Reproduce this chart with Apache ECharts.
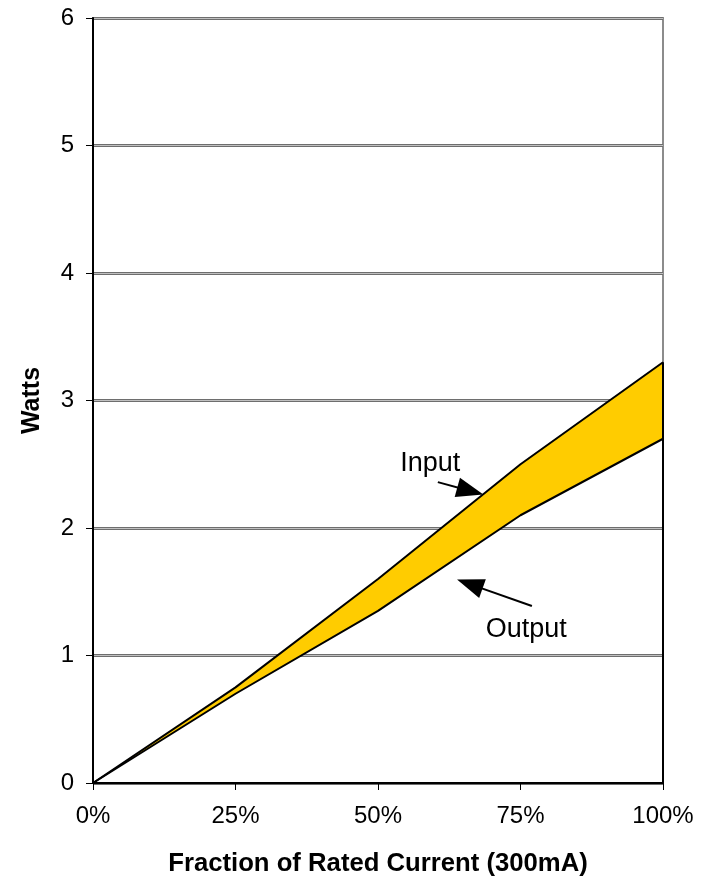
<!DOCTYPE html>
<html>
<head>
<meta charset="utf-8">
<script src="https://cdn.jsdelivr.net/npm/echarts@6/dist/echarts.min.js"></script>
<style>
  html, body { margin: 0; padding: 0; background: #fff; }
  #chart { width: 705px; height: 882px; }
</style>
</head>
<body>
<div id="chart"></div>
<script>
// Fraction of rated current (%) and measured power (W)
const fractions = [0, 25, 50, 75, 100];
const inputWatts = [0, 0.75, 1.6, 2.5, 3.3];
const outputWatts = [0, 0.7, 1.35, 2.1, 2.7];
const xTickLabels = ['0%', '25%', '50%', '75%', '100%'];
const yTickLabels = ['0', '1', '2', '3', '4', '5', '6'];

// Callout texts and arrows, in data coordinates [fraction %, watts]
const calloutTexts = [
  { text: 'Input', at: [53.9, 2.52] },
  { text: 'Output', at: [68.9, 1.216] }
];
const calloutArrows = [
  { from: [60.5, 2.36], to: [66.2, 2.29] },
  { from: [77.0, 1.388], to: [66.1, 1.56] }
];

const FONT = 'Liberation Sans, Arial, sans-serif';
const chart = echarts.init(document.getElementById('chart'), null, { renderer: 'canvas' });

// yellow band between output and input, stacked on the output curve
const bandWatts = inputWatts.map((v, i) => +(v - outputWatts[i]).toFixed(4));
const lastFraction = fractions[fractions.length - 1];
const lastInput = inputWatts[inputWatts.length - 1];

const option = {
  animation: false,
  backgroundColor: '#fff',
  grid: {
    left: 93, top: 18, width: 570, height: 765,
    show: true, borderColor: '#8c8c8c', borderWidth: 2, backgroundColor: 'transparent'
  },
  xAxis: [
    {
      type: 'category', data: xTickLabels, boundaryGap: false,
      name: 'Fraction of Rated Current (300mA)',
      nameLocation: 'middle', nameGap: 68,
      nameTextStyle: { fontFamily: FONT, fontWeight: 'bold', fontSize: 25.7, color: '#000' },
      axisLine: { show: true, lineStyle: { color: '#000', width: 2 } },
      axisTick: { show: true, length: 7, alignWithLabel: true, lineStyle: { color: '#000', width: 1 } },
      axisLabel: { fontFamily: FONT, fontSize: 24, color: '#000', margin: 21 },
      splitLine: { show: false }
    },
    {
      // continuous scale used to place the callouts
      type: 'value', min: 0, max: 100, show: false
    }
  ],
  yAxis: [
    {
      type: 'value', min: 0, max: 6, interval: 1,
      name: 'Watts', nameLocation: 'middle', nameGap: 48, nameRotate: 90,
      nameTextStyle: { fontFamily: FONT, fontWeight: 'bold', fontSize: 25, color: '#000' },
      axisLine: { show: true, lineStyle: { color: '#000', width: 2 } },
      axisTick: { show: true, length: 7, lineStyle: { color: '#000', width: 1 } },
      axisLabel: {
        fontFamily: FONT, fontSize: 24, color: '#000', margin: 19,
        formatter: v => yTickLabels[v]
      },
      splitLine: { show: true, lineStyle: { color: '#6e6e6e', width: 3 } }
    },
    {
      // inner highlight of the double gridlines
      type: 'value', min: 0, max: 6, interval: 1, position: 'left',
      axisLine: { show: false }, axisTick: { show: false }, axisLabel: { show: false },
      splitLine: { show: true, lineStyle: { color: '#c0c0c0', width: 1 } }
    }
  ],
  series: [
    {
      name: 'Output', type: 'line', stack: 'power', data: outputWatts,
      symbol: 'none', z: 3,
      lineStyle: { color: '#000', width: 2 },
      areaStyle: { opacity: 0 }
    },
    {
      name: 'Input', type: 'line', stack: 'power', data: bandWatts,
      symbol: 'none', z: 2,
      lineStyle: { color: '#000', width: 2 },
      areaStyle: { color: '#ffcc00', opacity: 1 }
    },
    {
      name: 'callouts', type: 'line', xAxisIndex: 1, yAxisIndex: 0,
      data: [[0, 0]], symbol: 'none', lineStyle: { width: 0 }, z: 4,
      markLine: {
        silent: true, symbol: ['none', 'triangle'], symbolSize: [20, 27],
        lineStyle: { color: '#000', width: 2, type: 'solid' },
        label: { show: false },
        data: calloutArrows.map(a => [{ coord: a.from, symbol: 'none' }, { coord: a.to }])
          .concat([[
            { coord: [lastFraction, 0], symbol: 'none' },
            { coord: [lastFraction, lastInput], symbol: 'none' }
          ]])
      }
    }
  ]
};
chart.setOption(option);

// place callout texts from their data positions
chart.setOption({
  graphic: calloutTexts.map(c => {
    const p = chart.convertToPixel({ xAxisIndex: 1, yAxisIndex: 0 }, c.at);
    return {
      type: 'text', left: p[0], top: p[1] - 12, z: 10,
      style: { text: c.text, fontFamily: FONT, fontSize: 27, fill: '#000' }
    };
  })
});
</script>
</body>
</html>
